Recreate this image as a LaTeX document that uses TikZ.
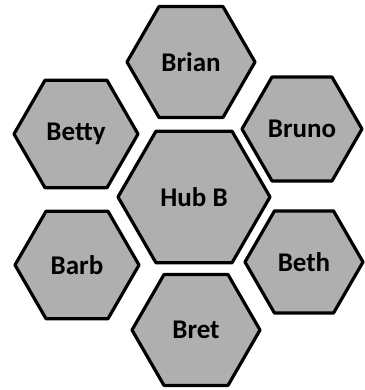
\documentclass[tikz,border=0pt]{standalone}
\usepackage{fontspec}
\setmainfont{Carlito}
\usetikzlibrary{shapes.geometric}
\definecolor{hexfill}{RGB}{175,175,175}
\tikzset{
  hexa/.style={regular polygon, regular polygon sides=6, draw=black, line width=3.2pt,
    fill=hexfill, inner sep=0pt, minimum size=#1, font=\bfseries\fontsize{27}{30}\selectfont,
    line join=round},
}
\begin{document}
\begin{tikzpicture}[x=1pt,y=1pt]
\useasboundingbox (0,0) rectangle (364,390);
\node[hexa=152pt] (hub) at (194,193) {Hub B};
\node[hexa=128pt] (brian) at (191,328) {Brian};
\node[hexa=124pt] (betty) at (76,256) {Betty};
\node[hexa=120pt] (bruno) at (302,261) {Bruno};
\node[hexa=124pt] (barb) at (77,125) {Barb};
\node[hexa=118pt] (beth) at (304,128) {Beth};
\node[hexa=128pt] (bret) at (196,60) {Bret};
\end{tikzpicture}
\end{document}
